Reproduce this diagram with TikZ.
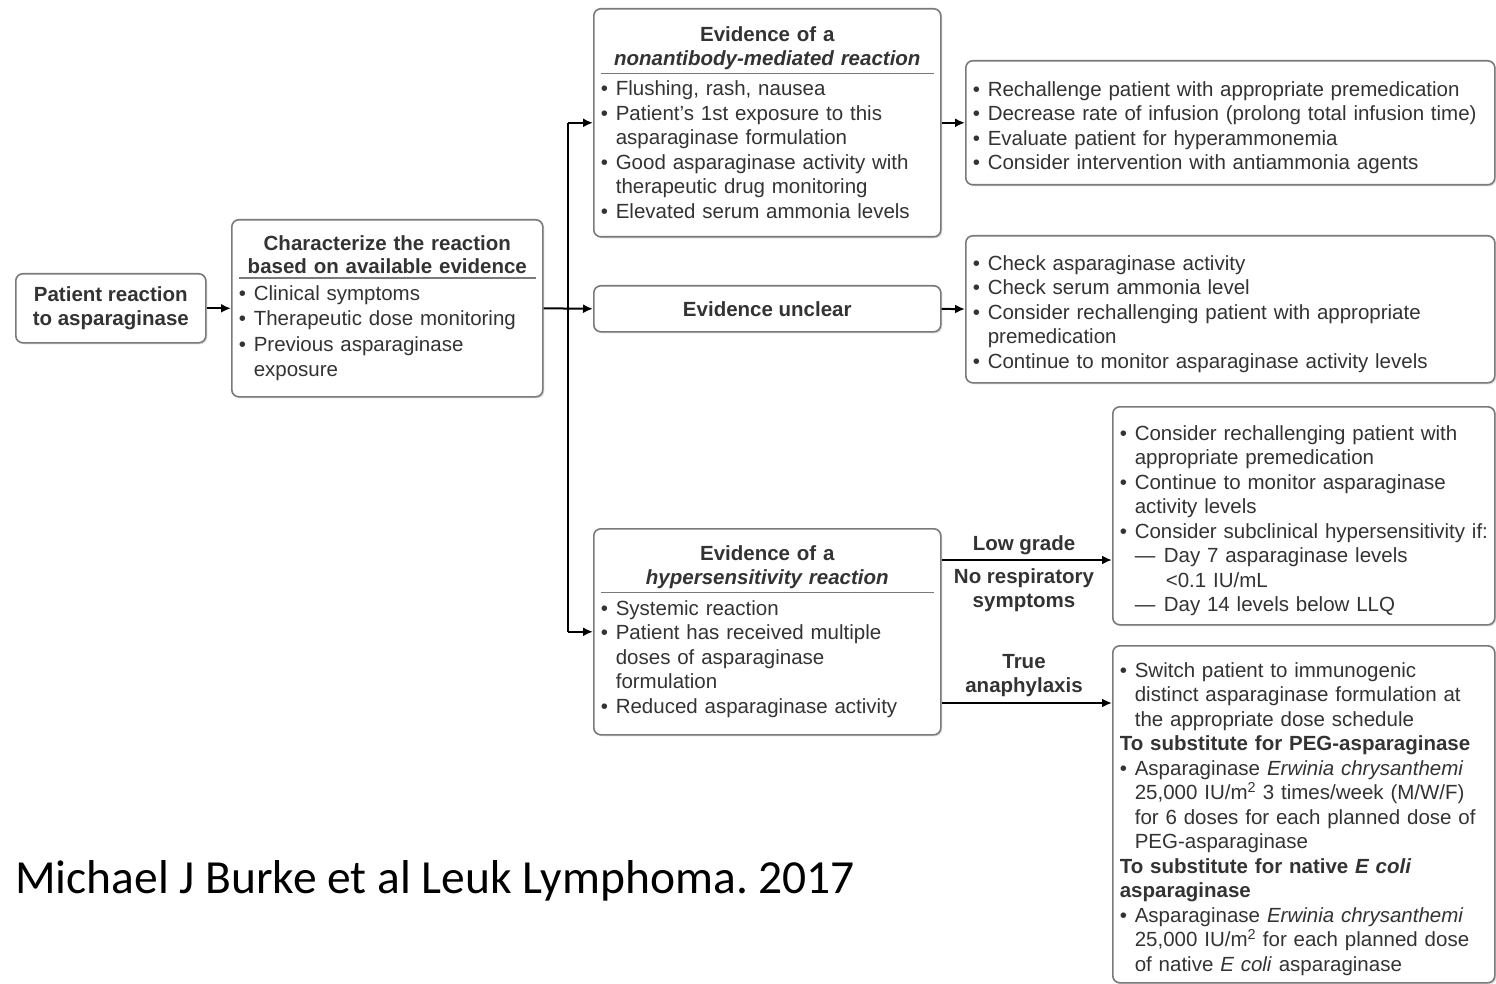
\documentclass[tikz,border=0pt]{standalone}
\usepackage{fontspec}
\setmainfont{Liberation Sans}
\newfontfamily\citefont{Carlito}
\usepackage{xcolor}
\usetikzlibrary{arrows.meta,positioning,shadows}

\definecolor{txt}{HTML}{333333}
\definecolor{edge}{HTML}{7A7A7A}
\newcommand{\itm}{\par\hangindent=15pt\hangafter=1\noindent\makebox[15pt][l]{\textbullet}}
\newcommand{\dsh}{\par\hangindent=46pt\hangafter=1\noindent\hspace*{15pt}\makebox[29pt][l]{---}}
\newcommand{\subhd}[1]{\par\noindent\textbf{#1}}
\newcommand{\hdr}[1]{{\centering\bfseries\fontsize{20.5}{23.5}\selectfont #1\par}\vspace{3pt}{\color{edge}\hrule height 1.6pt}\vspace{7pt}}

\begin{document}
\begin{tikzpicture}[x=1pt,y=-1pt,
    font=\fontsize{20.5}{24.5}\selectfont,
    box/.style={draw=edge,line width=1.6pt,rounded corners=7pt,fill=white,text=txt,inner xsep=7pt,inner ysep=5pt,anchor=north west,drop shadow={shadow xshift=1.5pt,shadow yshift=-1.5pt,opacity=0.25}},
    listbox/.style={box,align=left},
    headbox/.style={box,align=center,font=\fontsize{20.5}{24}\selectfont\bfseries},
    tag/.style={align=center,text=txt,font=\fontsize{20.5}{24}\selectfont\bfseries},
    arrow/.style={-{Latex[length=10pt,width=9pt]},line width=2pt}
]
\useasboundingbox (0,0) rectangle (1496,984);
\node[headbox,minimum width=190pt,minimum height=69pt] (patient) at (15,273) {Patient reaction\\to asparaginase};
\node[listbox,text width=297pt,minimum height=177pt,font=\fontsize{20.5}{25.5}\selectfont] (char) at (231,219) {\hdr{Characterize the reaction\\based on available evidence}\itm Clinical symptoms\itm Therapeutic dose monitoring\itm Previous asparaginase\newline exposure\par};
\node[listbox,text width=333pt,minimum height=228pt] (nonab) at (593,8) {\hdr{Evidence of a\\\textit{nonantibody-mediated reaction}}\itm Flushing, rash, nausea\itm Patient's 1st exposure to this\newline asparaginase formulation\itm Good asparaginase activity with\newline therapeutic drug monitoring\itm Elevated serum ammonia levels\par};
\node[headbox,minimum width=347pt,minimum height=46pt] (unclear) at (593,285) {Evidence unclear};
\node[listbox,text width=333pt,minimum height=206pt] (hyper) at (593,528) {\hdr{Evidence of a\\\textit{hypersensitivity reaction}}\itm Systemic reaction\itm Patient has received multiple\newline doses of asparaginase\newline formulation\itm Reduced asparaginase activity\par};
\node[listbox,text width=515pt,minimum height=124pt] (nonabact) at (965,60) {\itm Rechallenge patient with appropriate premedication\itm Decrease rate of infusion (prolong total infusion time)\itm Evaluate patient for hyperammonemia\itm Consider intervention with antiammonia agents\par};
\node[listbox,text width=515pt,minimum height=147pt] (unclearact) at (965,235) {\itm Check asparaginase activity\itm Check serum ammonia level\itm Consider rechallenging patient with appropriate\newline premedication\itm Continue to monitor asparaginase activity levels\par};
\node[listbox,text width=368pt,minimum height=218pt] (lowact) at (1112,406) {\itm Consider rechallenging patient with\newline appropriate premedication\itm Continue to monitor asparaginase\newline activity levels\itm \mbox{Consider subclinical hypersensitivity if:}\dsh Day 7 asparaginase levels\newline <0.1 IU/mL\dsh Day 14 levels below LLQ\par};
\node[listbox,text width=368pt,minimum height=337pt] (anaact) at (1112,645) {\itm Switch patient to immunogenic\newline distinct asparaginase formulation at\newline the appropriate dose schedule\subhd{To substitute for PEG-asparaginase}\itm Asparaginase \textit{Erwinia chrysanthemi}\newline 25,000 IU/m\textsuperscript{2} 3 times/week (M/W/F)\newline for 6 doses for each planned dose of\newline PEG-asparaginase\subhd{To substitute for native \textit{E coli}\newline asparaginase}\itm Asparaginase \textit{Erwinia chrysanthemi}\newline 25,000 IU/m\textsuperscript{2} for each planned dose\newline of native \textit{E coli} asparaginase\par};
\node[tag] (lowlbl) at (1024,545) {Low grade};
\node[tag] (resplbl) at (1024,590) {No respiratory\\symptoms};
\node[tag] (analbl) at (1024,676) {True\\anaphylaxis};
\node[anchor=base west,inner sep=0pt,font=\citefont\fontsize{47.5}{57}\selectfont\frenchspacing] (cite) at (15,893) {Michael J Burke et al Leuk Lymphoma. 2017};
\coordinate (trunk) at (568,307);
\coordinate (lowin) at (1112,560);
\coordinate (anain) at (1112,703);
\draw[arrow] (patient) -- (char);
\draw[arrow] (char.east) -- (unclear.west);
\draw[line width=2pt] (trunk |- nonab.west) -- (trunk |- hyper.west);
\draw[arrow] (trunk |- nonab.west) -- (nonab.west);
\draw[arrow] (trunk |- hyper.west) -- (hyper.west);
\draw[arrow] (nonab) -- (nonabact);
\draw[arrow] (unclear) -- (unclearact);
\draw[arrow] (hyper.east |- lowin) -- (lowin);
\draw[arrow] (hyper.east |- anain) -- (anain);
\end{tikzpicture}
\end{document}
